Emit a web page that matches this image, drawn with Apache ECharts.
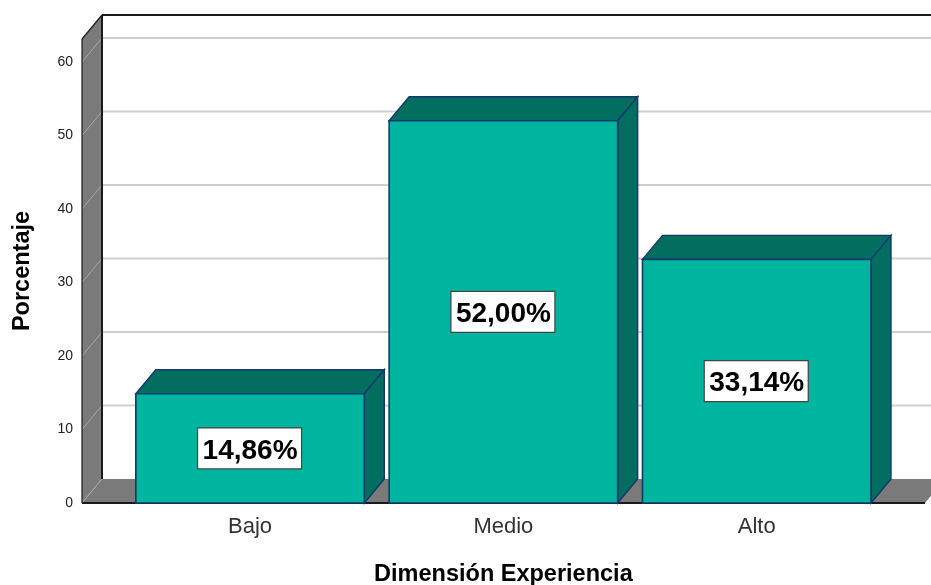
<!DOCTYPE html>
<html>
<head>
<meta charset="utf-8">
<style>html,body{margin:0;padding:0;background:#fff}#c{width:931px;height:585px}</style>
<script src="https://cdn.jsdelivr.net/npm/echarts@6/dist/echarts.min.js"></script>
</head>
<body>
<div id="c"></div>
<script>
var categories = ['Bajo', 'Medio', 'Alto'];
var porcentajes = [14.86, 52.00, 33.14];
var etiquetas = ['14,86%', '52,00%', '33,14%'];
var yTicks = [0, 10, 20, 30, 40, 50, 60];
var yMax = 63.13;

var DX = 20, DY = 24;      // 3D depth offset in pixels
var FONT = '"Liberation Sans", Arial, sans-serif';
var COL = {front:'#00B5A0', dark:'#016E60', edge:'#12386E', wall:'#7A7A7A', grid:'#CFCFCF', wallGrid:'#A8A8A8', ink:'#1a1a1a'};

function poly(pts, fill, stroke, lw) {
  return {type:'polygon', shape:{points:pts}, style:{fill:fill, stroke:stroke||null, lineWidth:lw||0}};
}
function line(x1,y1,x2,y2,c,w) {
  return {type:'line', shape:{x1:x1,y1:y1,x2:x2,y2:y2}, style:{stroke:c, lineWidth:w, fill:null}};
}

function renderWalls(params, api) {
  var xl = 82, xr = 945;
  var y0 = api.coord([0, 0])[1];
  var yt = api.coord([0, yMax])[1];
  var ch = [];
  ch.push(poly([[xl,yt],[xl+DX,yt-DY],[xl+DX,y0-DY],[xl,y0]], COL.wall));
  yTicks.forEach(function(v){
    var y = api.coord([0, v])[1];
    if (v > 0) ch.push(line(xl+DX, y-DY, xr, y-DY, COL.grid, 2));
    ch.push(line(xl, y, xl+DX, y-DY, COL.wallGrid, 1));
  });
  ch.push(poly([[xl+DX,y0-DY],[xr,y0-DY],[xr-DX,y0],[xl,y0]], COL.wall));
  ch.push(line(xl, y0, xl+DX, y0-DY, COL.wallGrid, 1));
  ch.push(line(xl+DX, yt-DY, xl+DX, y0-DY, COL.ink, 2));
  ch.push(line(xl+DX, yt-DY, xr, yt-DY, COL.ink, 2));
  ch.push(line(xl, yt, xl+DX, yt-DY, COL.ink, 1.2));
  ch.push(line(xl, yt, xl, y0, COL.ink, 1.2));
  ch.push(line(xl, y0, xr-DX, y0, COL.ink, 2));
  return {type:'group', children:ch};
}

function renderBar(params, api) {
  var i = api.value(0), v = api.value(1);
  var c = api.coord([i, v]);
  var b = api.coord([i, 0]);
  var w = api.size([1, 0])[0] * 0.902;
  var l = c[0] - w/2, r = c[0] + w/2, t = c[1], y0 = b[1];
  var my = (t + y0) / 2;
  var ch = [
    poly([[l,t],[l+DX,t-DY],[r+DX,t-DY],[r,t]], COL.dark, COL.edge, 1.4),
    poly([[r,t],[r+DX,t-DY],[r+DX,y0-DY],[r,y0]], COL.dark, COL.edge, 1.4),
    {type:'rect', shape:{x:l,y:t,width:r-l,height:y0-t}, style:{fill:COL.front, stroke:COL.edge, lineWidth:1.6}},
    {type:'rect', z2:4, shape:{x:c[0]-52.5,y:my-20.5,width:104,height:41}, style:{fill:'#fff', stroke:'#444', lineWidth:1.2}},
    {type:'text', x:c[0], y:my+2.5, z2:5, style:{
      text:etiquetas[i], x:0, y:0, align:'center', verticalAlign:'middle',
      font:'bold 28px '+FONT, fill:'#000'
    }}
  ];
  return {type:'group', children:ch};
}

var chart = echarts.init(document.getElementById('c'), null, {renderer:'canvas'});
chart.setOption({
  animation:false,
  backgroundColor:'#fff',
  tooltip:{show:false},
  grid:{left:123.4, top:39, width:760, height:464, containLabel:false, outerBoundsMode:'none'},
  xAxis:{
    type:'category', data:categories,
    axisLine:{show:false}, axisTick:{show:false},
    axisLabel:{margin:13, fontFamily:FONT, fontSize:22, color:'#333'},
    name:'Dimensión Experiencia', nameLocation:'middle', nameGap:60,
    nameTextStyle:{fontFamily:FONT, fontSize:23.5, fontWeight:'bold', color:'#000'}
  },
  yAxis:{
    type:'value', min:0, max:yMax, interval:10, offset:41.4,
    splitLine:{show:false},
    axisLine:{show:false},
    axisTick:{show:false},
    axisLabel:{showMaxLabel:false, margin:9, fontFamily:FONT, fontSize:14, color:'#222'},
    name:'Porcentaje', nameLocation:'middle', nameGap:47, nameRotate:90,
    nameTextStyle:{fontFamily:FONT, fontSize:23.5, fontWeight:'bold', color:'#000'}
  },
  series:[
    {type:'custom', silent:true, clip:false, z:1, renderItem:renderWalls, data:[[0,0]], encode:{x:0,y:1}},
    {type:'custom', silent:true, clip:false, z:2, renderItem:renderBar,
      data:categories.map(function(c,i){return [i, porcentajes[i]];}), encode:{x:0,y:1}}
  ]
});
</script>
</body>
</html>
